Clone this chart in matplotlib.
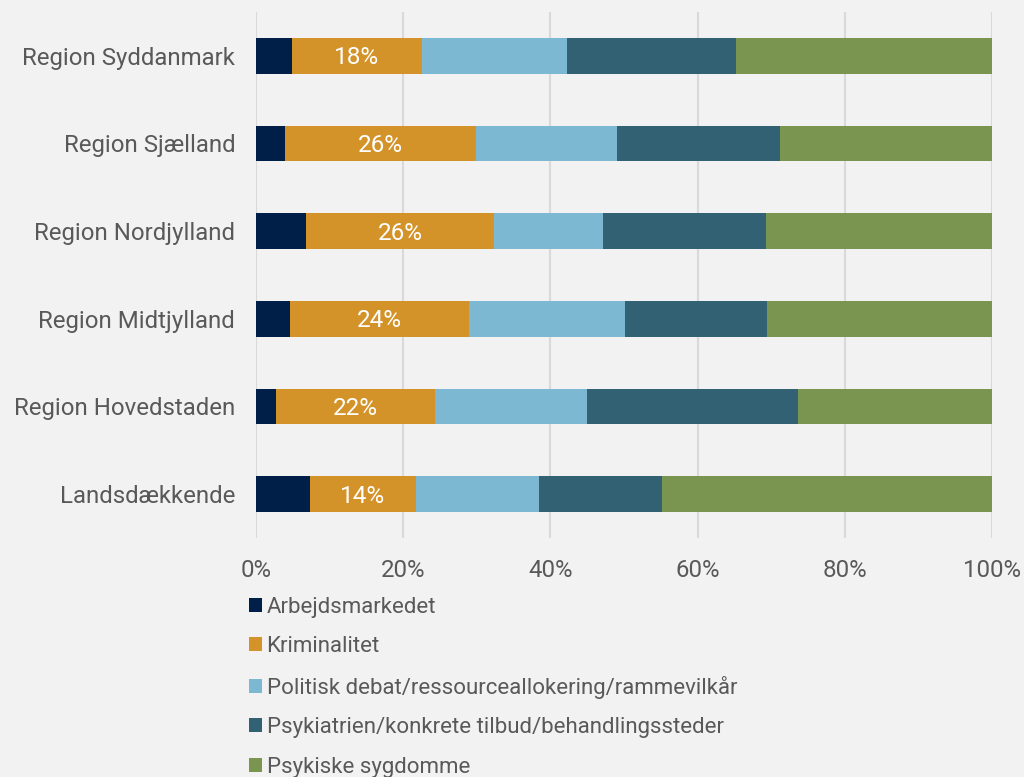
import numpy as np
import matplotlib.pyplot as plt
from matplotlib.patches import Patch

plt.rcParams['font.family'] = ['Roboto', 'DejaVu Sans']

regions = ['Landsdækkende', 'Region Hovedstaden', 'Region Midtjylland',
           'Region Nordjylland', 'Region Sjælland', 'Region Syddanmark']
series = ['Arbejdsmarkedet', 'Kriminalitet',
          'Politisk debat/ressourceallokering/rammevilkår',
          'Psykiatrien/konkrete tilbud/behandlingssteder',
          'Psykiske sygdomme']
arbejd = [7.3, 2.7, 4.6, 6.8, 3.9, 4.9]
krimi = [14.4, 21.6, 24.4, 25.6, 26.0, 17.6]
politisk = [16.8, 20.7, 21.2, 14.8, 19.2, 19.7]
psykiatri = [16.6, 28.7, 19.2, 22.1, 22.1, 23.0]
sygdom = [44.9, 26.3, 30.6, 30.7, 28.8, 34.8]
colors = ['#001f48', '#d49328', '#7cb8d2', '#326174', '#7a954f']

bg = '#f2f2f2'
txt = '#595959'

fig = plt.figure(figsize=(10.24, 7.77), dpi=100, facecolor=bg)
ax = fig.add_axes([0.25, 0.3076, 0.71875, 0.677])
ax.set_facecolor(bg)

y = np.arange(len(regions))
left = np.zeros(len(regions))
for vals, name, c in zip([arbejd, krimi, politisk, psykiatri, sygdom], series, colors):
    ax.barh(y, vals, left=left, height=0.41, color=c, label=name, zorder=3)
    if name == 'Kriminalitet':
        # only this series carries data labels
        for yi, l, v in zip(y, left, vals):
            ax.annotate(f'{v:.0f}%', (l + v / 2, yi), xytext=(0, -1.5),
                        textcoords='offset points', ha='center', va='center',
                        color='white', fontsize=17.5, zorder=4)
    left += np.array(vals)

ax.set_xlim(0, 100)
ax.set_ylim(-0.5, 5.5)
ax.set_xticks(np.arange(0, 101, 20))
ax.set_xticklabels([f'{t}%' for t in range(0, 101, 20)])
ax.set_yticks(y)
ax.set_yticklabels(regions)
ax.tick_params(axis='x', length=0, pad=15, labelsize=17.3, colors=txt)
ax.tick_params(axis='y', length=0, pad=15, labelsize=17.3, colors=txt)
ax.grid(axis='x', color='#d9d9d9', linewidth=1.5, zorder=0)
for s in ax.spines.values():
    s.set_visible(False)

handles = [Patch(facecolor=c, label=n) for c, n in zip(colors, series)]
fig.legend(handles=handles, loc='upper left', bbox_to_anchor=(0.243, 0.232),
           frameon=False, fontsize=16, labelcolor=txt, handlelength=0.6,
           handleheight=0.6, handletextpad=0.2, labelspacing=0.83,
           borderpad=0, borderaxespad=0)

fig.savefig('out.png', dpi=100, facecolor=bg)
